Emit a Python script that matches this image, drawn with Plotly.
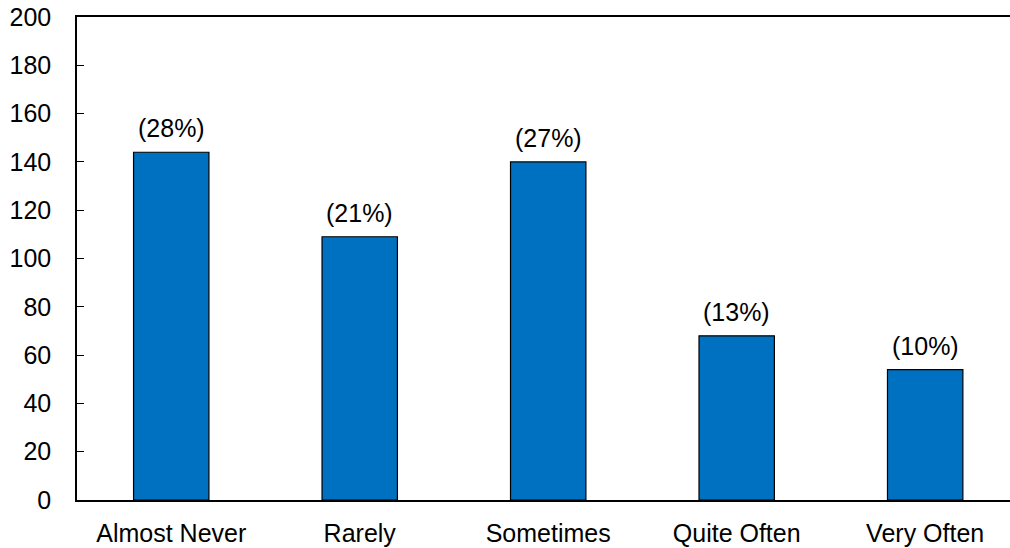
import plotly.graph_objects as go

categories = ["Almost Never", "Rarely", "Sometimes", "Quite Often", "Very Often"]
counts = [144, 109, 140, 68, 54]

total = sum(counts)
labels = ["(%d%%)" % round(c * 100 / total) for c in counts]

fig = go.Figure(go.Bar(
    x=categories, y=counts, width=0.4,
    marker=dict(color="#0070C0", line=dict(color="black", width=1.2)),
))

# percentage labels above the bars
for cat, val, lab in zip(categories, counts, labels):
    fig.add_annotation(x=cat, y=val, text=lab, showarrow=False,
                       yanchor="bottom", yshift=8, font=dict(size=25, color="black"))

fig.update_layout(
    width=1010, height=548,
    margin=dict(l=77, r=0, t=17, b=48),
    plot_bgcolor="white", paper_bgcolor="white",
    font=dict(family="Liberation Sans, Arial, sans-serif", size=25, color="black"),
    showlegend=False,
)
fig.update_xaxes(
    range=[-0.5, 4.45], showline=True, linecolor="black", linewidth=1.5,
    mirror=True, ticks="", showgrid=False, ticklabelstandoff=10, automargin=False,
)
fig.update_yaxes(
    range=[0, 200], dtick=20, showline=True, linecolor="black", linewidth=1.5,
    ticks="inside", ticklen=7, tickcolor="black", showgrid=False, zeroline=False,
    ticklabelstandoff=19, automargin=False, ticklabeloverflow="allow",
)

# drop the default 8px body margin so the figure fills the window exactly
fig.write_html("out.html", config={"displayModeBar": False},
               post_script="document.body.style.margin='0';")
